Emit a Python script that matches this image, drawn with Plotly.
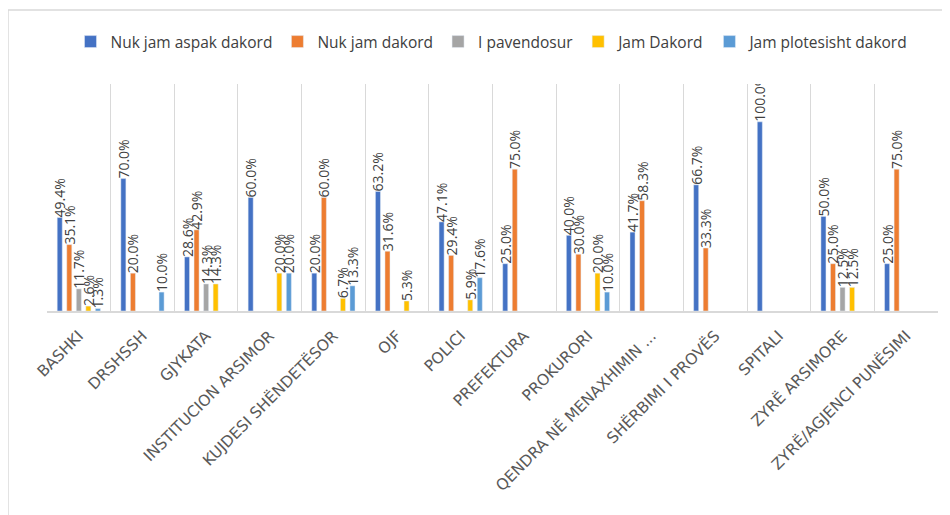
import plotly.graph_objects as go

categories = ["BASHKI", "DRSHSSH", "GJYKATA", "INSTITUCION ARSIMOR", "KUJDESI SHËNDETËSOR",
              "OJF", "POLICI", "PREFEKTURA", "PROKURORI", "QENDRA NË MENAXHIMIN ...",
              "SHËRBIMI I PROVËS", "SPITALI", "ZYRË ARSIMORE", "ZYRË/AGJENCI PUNËSIMI"]

nuk_aspak = [49.4, 70.0, 28.6, 60.0, 20.0, 63.2, 47.1, 25.0, 40.0, 41.7, 66.7, 100.0, 50.0, 25.0]
nuk_dakord = [35.1, 20.0, 42.9, None, 60.0, 31.6, 29.4, 75.0, 30.0, 58.3, 33.3, None, 25.0, 75.0]
pavendosur = [11.7, None, 14.3, None, None, None, None, None, None, None, None, None, 12.5, None]
jam_dakord = [2.6, None, 14.3, 20.0, 6.7, 5.3, 5.9, None, 20.0, None, None, None, 12.5, None]
plotesisht = [1.3, 10.0, None, 20.0, 13.3, None, 17.6, None, 10.0, None, None, None, None, None]

series = [
    ("Nuk jam aspak dakord", nuk_aspak, "#4472C4"),
    ("Nuk jam dakord", nuk_dakord, "#ED7D31"),
    ("I pavendosur", pavendosur, "#A5A5A5"),
    ("Jam Dakord", jam_dakord, "#FFC000"),
    ("Jam plotesisht dakord", plotesisht, "#5B9BD5"),
]

fig = go.Figure()
for name, vals, col in series:
    labels = ["" if v is None else f"{v:.1f}%" for v in vals]
    fig.add_trace(go.Bar(
        x=categories, y=vals, name=name, marker_color=col,
        text=labels, textposition="outside", textangle=-90,
        constraintext="none", cliponaxis=True,
        textfont=dict(family="Open Sans", size=14, color="#404040"),
    ))

# page body adds 8px offset; plot area in figure px: x 39..930, y 76..303
fig.update_layout(
    width=942, height=507,
    margin=dict(l=39, r=12, t=76, b=204),
    paper_bgcolor="white", plot_bgcolor="white",
    barmode="group", bargap=0.25, bargroupgap=0.47,
    font=dict(family="Open Sans", color="#404040"),
    legend=dict(orientation="h", x=0.5, xanchor="center", y=1.185, yanchor="middle",
                font=dict(size=15.5, color="#404040"), traceorder="normal"),
    showlegend=True,
    shapes=[dict(type="rect", xref="paper", yref="paper",
                 x0=-0.0438, x1=1.03, y0=-1.0, y1=1.326,
                 line=dict(color="#D9D9D9", width=1.5), layer="below")],
)
fig.update_xaxes(showgrid=True, gridcolor="#D9D9D9", gridwidth=1, tickson="boundaries",
                 showline=True, linecolor="#D9D9D9", linewidth=1.5, ticks="",
                 tickangle=-45, automargin=False, ticklabelstandoff=8,
                 tickfont=dict(family="DejaVu Sans", size=15.5, color="#595959"))
fig.update_yaxes(range=[0, 120], visible=False, showgrid=False, zeroline=False)

fig.write_html("out.html")
